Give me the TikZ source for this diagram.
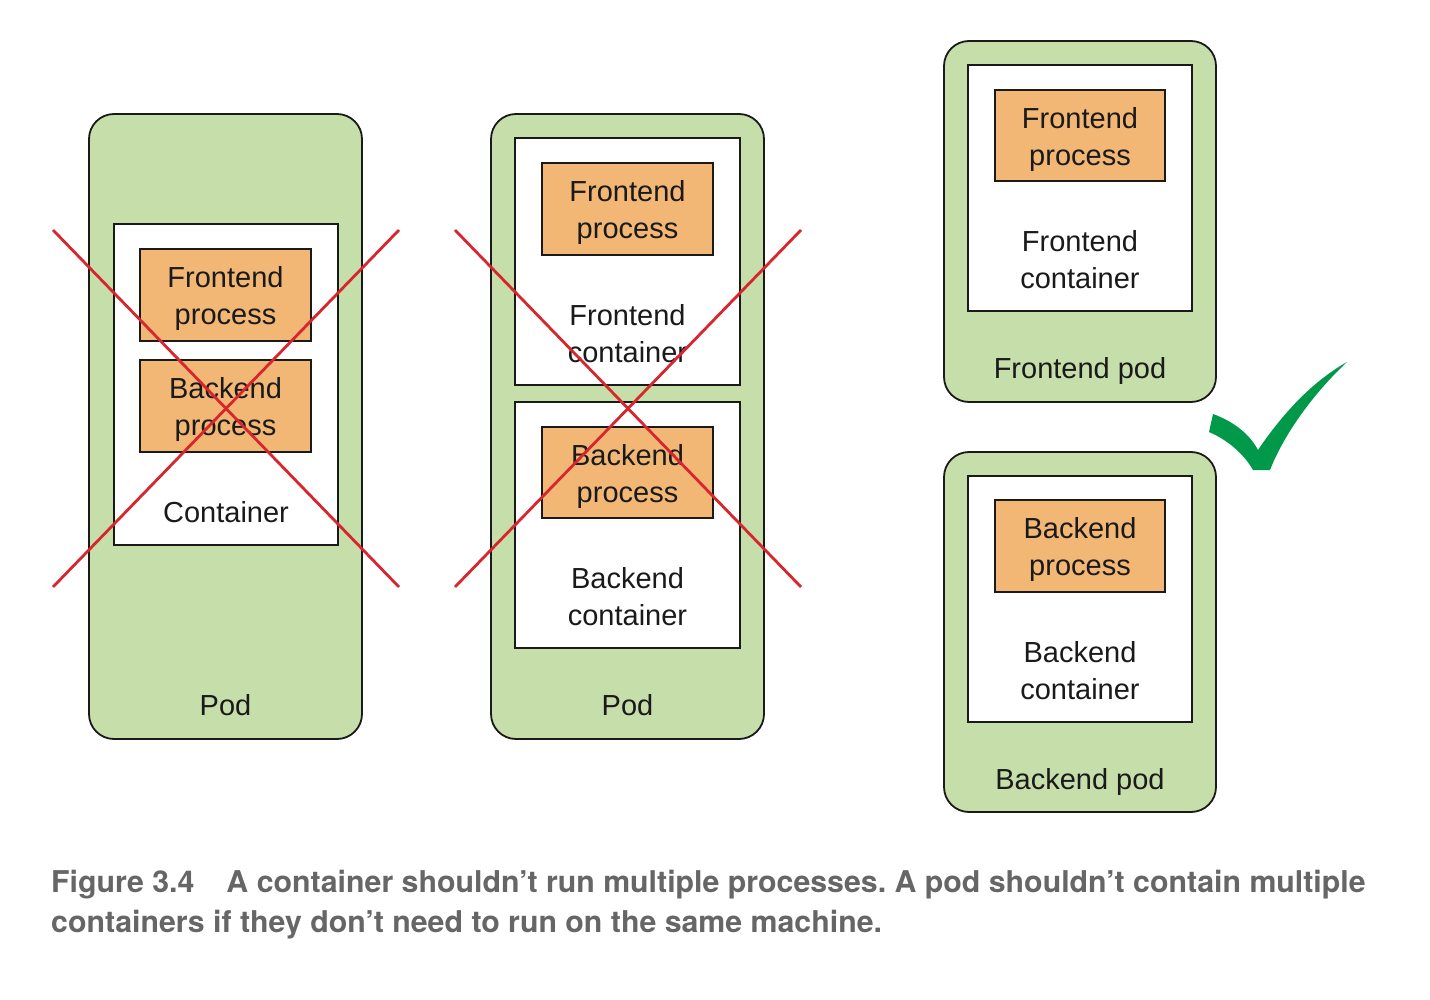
\documentclass[tikz,border=0pt]{standalone}
\usepackage{fontspec}
\setmainfont{Liberation Sans}
\newfontfamily\capfont[FakeStretch=1.01]{texgyreheros-bold.otf}
\definecolor{podgreen}{HTML}{C5DEAA}
\definecolor{procorange}{HTML}{F2B675}
\definecolor{xred}{HTML}{D7262D}
\definecolor{checkgreen}{HTML}{00994A}
\definecolor{capgrey}{HTML}{666666}
\definecolor{edge}{HTML}{1A1A1A}
\newcommand\lblfont{\fontsize{29}{37}\selectfont}
\tikzset{
  pod/.style={draw=edge, line width=1.8pt, fill=podgreen, rounded corners=25pt, inner sep=0pt},
  ctr/.style={draw=edge, line width=1.8pt, fill=white, inner sep=0pt},
  proc/.style={draw=edge, line width=1.6pt, fill=procorange, inner sep=0pt},
  lbl/.style={align=center, font=\lblfont, inner sep=0pt, text=edge},
  plbl/.style={lbl, yshift=-4pt},
  xline/.style={draw=xred, line width=2.8pt},
  caption/.style={anchor=base west, inner sep=0pt, text=capgrey, font=\fontsize{30}{40}\selectfont\capfont\frenchspacing}
}
\begin{document}
\begin{tikzpicture}[x=1pt,y=-1pt]
\useasboundingbox (0,0) rectangle (1430,1000);

% Pod 1
\node[pod, minimum width=273pt, minimum height=625pt] (pod1) at (225.5,426.5) {};
\node[ctr, minimum width=224pt, minimum height=321pt] (c1) at (226,384.5) {};
\node[proc, minimum width=171pt, minimum height=92pt] (fp1) at (225.5,295) {};
\node[plbl] (fp1l) at (fp1.center) {Frontend\\process};
\node[proc, minimum width=171pt, minimum height=92pt] (bp1) at (225.5,406) {};
\node[plbl] (bp1l) at (bp1.center) {Backend\\process};
\node[lbl] (c1l) at (226,512) {Container};
\node[lbl] (pod1l) at (225.5,705) {Pod};

% Pod 2
\node[pod, minimum width=273pt, minimum height=625pt] (pod2) at (627.5,426.5) {};
\node[ctr, minimum width=225pt, minimum height=247pt] (fc2) at (627.5,261.5) {};
\node[proc, minimum width=171pt, minimum height=92pt] (fp2) at (627.5,209) {};
\node[plbl] (fp2l) at (fp2.center) {Frontend\\process};
\node[lbl] (fc2l) at (627.5,333.5) {Frontend\\container};
\node[ctr, minimum width=225pt, minimum height=246pt] (bc2) at (627.5,525) {};
\node[proc, minimum width=171pt, minimum height=91pt] (bp2) at (627.5,472.5) {};
\node[plbl] (bp2l) at (bp2.center) {Backend\\process};
\node[lbl] (bc2l) at (627.5,596.5) {Backend\\container};
\node[lbl] (pod2l) at (627.5,705) {Pod};

% Frontend pod
\node[pod, minimum width=272pt, minimum height=361pt] (pod3) at (1080,221.5) {};
\node[ctr, minimum width=224pt, minimum height=246pt] (c3) at (1080,188) {};
\node[proc, minimum width=170pt, minimum height=91pt] (p3) at (1080,135.5) {};
\node[plbl] (p3l) at (p3.center) {Frontend\\process};
\node[lbl] (c3l) at (1080,259.5) {Frontend\\container};
\node[lbl] (pod3l) at (1080,371) {Frontend pod};

% Backend pod
\node[pod, minimum width=272pt, minimum height=360pt] (pod4) at (1080,632) {};
\node[ctr, minimum width=224pt, minimum height=246pt] (c4) at (1080,599) {};
\node[proc, minimum width=170pt, minimum height=92pt] (p4) at (1080,546) {};
\node[plbl] (p4l) at (p4.center) {Backend\\process};
\node[lbl] (c4l) at (1080,670.5) {Backend\\container};
\node[lbl] (pod4l) at (1080,782) {Backend pod};

% Red crosses
\coordinate (x1a) at (53,230); \coordinate (x1b) at (399,587);
\coordinate (x1c) at (399,230); \coordinate (x1d) at (53,587);
\draw[xline] (x1a) -- (x1b); \draw[xline] (x1c) -- (x1d);
\coordinate (x2a) at (455,230); \coordinate (x2b) at (801,587);
\coordinate (x2c) at (801,230); \coordinate (x2d) at (455,587);
\draw[xline] (x2a) -- (x2b); \draw[xline] (x2c) -- (x2d);

% Check mark
\fill[checkgreen] (1213,414) .. controls (1235,422) and (1250,435) .. (1258,450)
  .. controls (1285,410) and (1315,380) .. (1347,362)
  .. controls (1315,392) and (1285,432) .. (1270,470)
  -- (1253,470)
  .. controls (1245,456) and (1230,441) .. (1209,432) -- cycle;

% Caption
\node[caption] (cap1) at (51,892) {Figure 3.4\hspace{32pt}A container shouldn’t run multiple processes. A pod shouldn’t contain multiple};
\node[caption] (cap2) at (51,932) {containers if they don’t need to run on the same machine.};
\end{tikzpicture}
\end{document}
